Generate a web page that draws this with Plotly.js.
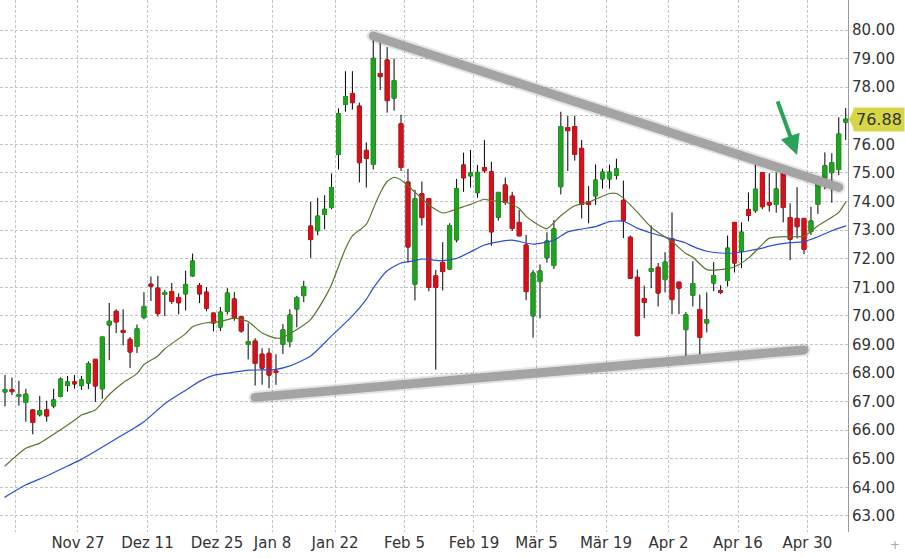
<!DOCTYPE html>
<html><head><meta charset="utf-8">
<script src="https://cdn.plot.ly/plotly-3.0.1.min.js"></script>
<style>
html,body{margin:0;padding:0;background:#fff}
#chart{width:905px;height:558px}
.trend path.js-line{stroke-linecap:round}
</style>
</head><body><div id="chart"></div>
<script>
const DATES = ['2017-11-09','2017-11-10','2017-11-13','2017-11-14','2017-11-15','2017-11-16','2017-11-17','2017-11-20','2017-11-21','2017-11-22','2017-11-24','2017-11-27','2017-11-28','2017-11-29','2017-11-30',
'2017-12-01','2017-12-04','2017-12-05','2017-12-06','2017-12-07','2017-12-08','2017-12-11','2017-12-12','2017-12-13','2017-12-14','2017-12-15','2017-12-18','2017-12-19','2017-12-20','2017-12-21','2017-12-22','2017-12-26','2017-12-27','2017-12-28','2017-12-29',
'2018-01-02','2018-01-03','2018-01-04','2018-01-05','2018-01-08','2018-01-09','2018-01-10','2018-01-11','2018-01-12','2018-01-16','2018-01-17','2018-01-18','2018-01-19','2018-01-22','2018-01-23','2018-01-24','2018-01-25','2018-01-26','2018-01-29','2018-01-30','2018-01-31',
'2018-02-01','2018-02-02','2018-02-05','2018-02-06','2018-02-07','2018-02-08','2018-02-09','2018-02-12','2018-02-13','2018-02-14','2018-02-15','2018-02-16','2018-02-20','2018-02-21','2018-02-22','2018-02-23','2018-02-26','2018-02-27','2018-02-28',
'2018-03-01','2018-03-02','2018-03-05','2018-03-06','2018-03-07','2018-03-08','2018-03-09','2018-03-12','2018-03-13','2018-03-14','2018-03-15','2018-03-16','2018-03-19','2018-03-20','2018-03-21','2018-03-22','2018-03-23','2018-03-26','2018-03-27','2018-03-28','2018-03-29',
'2018-04-02','2018-04-03','2018-04-04','2018-04-05','2018-04-06','2018-04-09','2018-04-10','2018-04-11','2018-04-12','2018-04-13','2018-04-16','2018-04-17','2018-04-18','2018-04-19','2018-04-20','2018-04-23','2018-04-24','2018-04-25','2018-04-26','2018-04-27','2018-04-30',
'2018-05-01','2018-05-02','2018-05-03','2018-05-04','2018-05-07'];

const OPEN = [67.34,67.42,67.18,66.97,66.71,66.54,66.71,66.85,67.18,67.57,67.69,67.56,67.65,68.48,67.45,
69.68,70.16,69.49,69.18,68.93,69.94,71.11,70.97,70.75,70.85,70.64,70.77,71.40,71.06,70.83,70.10,69.61,70.16,70.59,69.97,
69.00,69.12,68.66,68.69,68.07,69.01,69.10,70.24,70.71,73.14,72.98,73.55,73.79,75.65,77.40,77.78,77.34,75.79,75.30,78.48,78.95,
77.62,76.72,74.68,71.11,74.27,74.10,71.40,71.87,71.64,72.66,75.28,74.90,74.31,75.19,75.04,73.45,74.58,74.19,73.27,
72.48,70.00,71.20,72.03,71.76,74.52,76.59,76.62,75.86,73.99,74.20,74.79,74.79,74.92,74.04,72.75,71.35,70.60,71.56,71.70,71.27,
72.70,71.18,69.52,70.72,70.22,69.75,71.15,70.88,71.24,73.27,72.26,73.72,73.68,75.01,73.96,73.90,74.99,73.44,73.41,73.41,72.95,
73.90,74.82,75.01,75.12,76.78];

const HIGH = [67.93,67.84,67.73,67.45,66.73,67.20,67.03,67.45,67.85,67.90,67.93,67.90,68.41,68.48,69.26,
70.45,70.23,70.23,69.26,69.70,70.83,71.38,71.40,70.91,71.15,70.79,71.58,72.18,71.15,71.00,70.10,70.31,70.97,70.83,69.97,
69.74,69.22,68.87,68.87,68.66,69.71,70.23,70.70,71.23,73.99,74.13,74.22,74.98,77.26,78.56,78.56,77.46,76.07,79.71,79.59,79.40,
79.00,77.03,75.14,74.41,74.70,74.10,71.61,72.58,73.24,74.79,75.71,75.80,75.28,76.15,75.39,74.32,74.84,74.34,73.70,
72.83,71.60,71.80,72.92,73.35,77.14,77.00,77.00,76.15,74.54,75.30,75.15,75.29,75.50,74.73,72.81,71.62,71.06,73.16,71.85,72.23,
73.62,71.18,70.13,71.91,70.74,70.82,71.88,71.07,72.81,73.27,73.27,74.32,75.35,75.01,74.99,75.01,74.99,73.94,74.50,73.41,73.82,
74.84,75.72,75.69,76.95,77.27];

const LOW = [66.83,67.23,66.86,66.30,65.86,66.48,66.30,66.77,67.15,67.35,67.45,67.41,67.44,66.99,67.10,
68.45,69.40,68.97,68.18,68.70,69.88,70.52,69.98,70.00,70.42,70.05,70.19,71.37,70.45,70.16,69.46,69.47,70.05,69.83,69.41,
68.48,67.56,67.59,67.47,67.59,68.67,68.90,69.60,70.48,72.03,72.82,73.03,73.73,75.12,77.14,77.22,74.67,74.49,75.12,77.90,77.11,
77.18,75.07,71.87,70.54,73.16,70.86,68.12,70.89,71.61,72.57,74.34,74.49,74.13,75.00,72.45,73.33,73.88,72.97,72.80,
70.55,69.24,69.91,71.86,71.64,74.25,75.07,75.43,73.41,73.24,73.88,74.45,74.45,74.77,72.72,71.30,69.28,69.92,70.97,70.33,70.82,
70.06,70.06,68.58,70.33,68.64,69.42,70.86,70.76,71.03,71.52,71.67,73.31,73.60,73.73,73.65,73.61,73.27,71.95,72.71,72.16,72.83,
73.57,74.43,73.96,74.92,76.15];

const CLOSE = [67.42,67.35,67.25,67.26,66.27,66.68,66.50,67.06,67.79,67.69,67.62,67.76,68.33,67.55,69.26,
69.81,69.79,69.42,68.74,69.55,70.33,71.04,70.08,70.82,70.51,70.46,71.10,71.92,70.77,70.27,69.75,70.13,70.80,69.92,69.47,
69.10,68.34,68.17,67.93,68.02,69.51,70.03,70.64,71.02,72.67,73.49,73.73,74.49,77.08,77.67,77.46,75.36,75.51,79.01,78.37,77.53,
78.23,75.19,72.41,74.10,73.44,71.00,71.00,71.55,73.16,74.45,74.83,75.00,75.02,75.08,72.94,74.32,73.97,73.06,72.80,
70.85,71.50,71.57,72.62,73.04,76.62,76.48,75.65,73.90,73.90,74.75,75.03,75.03,75.14,73.33,71.32,69.31,70.47,71.65,70.80,71.88,
70.57,70.97,70.04,71.13,69.25,69.87,71.41,70.82,72.37,71.85,72.93,73.52,74.43,73.82,73.88,74.44,73.79,72.68,73.12,72.33,73.32,
74.62,75.25,75.36,76.36,76.88];

// moving average lines (at sample dates)
const MA_FAST_DATES = ['2017-11-09','2017-11-14','2017-11-16','2017-11-21','2017-11-24','2017-11-27','2017-11-29','2017-12-01','2017-12-05','2017-12-07','2017-12-08','2017-12-12','2017-12-13','2017-12-18','2017-12-19','2017-12-21','2017-12-26','2017-12-28',
'2018-01-02','2018-01-04','2018-01-08','2018-01-09','2018-01-11','2018-01-16','2018-01-18','2018-01-19','2018-01-23','2018-01-24','2018-01-26','2018-01-29','2018-01-30','2018-01-31',
'2018-02-01','2018-02-02','2018-02-05','2018-02-07','2018-02-08','2018-02-12','2018-02-13','2018-02-15','2018-02-16','2018-02-21','2018-02-22','2018-02-26','2018-02-28',
'2018-03-01','2018-03-05','2018-03-06','2018-03-08','2018-03-12','2018-03-14','2018-03-19','2018-03-20','2018-03-21','2018-03-23','2018-03-27','2018-03-28',
'2018-04-02','2018-04-04','2018-04-05','2018-04-09','2018-04-11','2018-04-13','2018-04-17','2018-04-19','2018-04-20','2018-04-24','2018-04-27',
'2018-05-01','2018-05-03','2018-05-04','2018-05-07'];
const MA_FAST = [64.75,65.37,65.55,66.02,66.35,66.53,66.71,67.25,67.66,67.98,68.30,68.60,68.85,69.38,69.62,69.76,69.80,69.92,
69.80,69.40,69.22,69.25,69.52,69.88,70.62,71.10,72.35,72.80,73.20,73.75,74.30,74.70,
74.85,74.75,74.55,74.10,73.88,73.60,73.65,73.82,73.90,74.08,74.03,73.99,73.76,
73.48,73.15,73.05,73.50,73.85,73.98,74.28,74.28,74.12,73.63,73.10,72.92,
72.60,72.18,72.05,71.62,71.62,71.72,72.02,72.50,72.72,72.77,72.79,
73.15,73.45,73.62,73.98];

const MA_SLOW_DATES = ['2017-11-09','2017-11-14','2017-11-17','2017-11-22','2017-11-27','2017-12-04','2017-12-08','2017-12-13','2017-12-18','2017-12-20','2017-12-22','2017-12-28',
'2018-01-02','2018-01-04','2018-01-08','2018-01-10','2018-01-16','2018-01-19','2018-01-24','2018-01-26','2018-01-29','2018-01-31',
'2018-02-02','2018-02-06','2018-02-07','2018-02-12','2018-02-14','2018-02-16','2018-02-21','2018-02-23','2018-02-27',
'2018-03-02','2018-03-07','2018-03-09','2018-03-13','2018-03-15','2018-03-19','2018-03-21','2018-03-23','2018-03-27','2018-03-29',
'2018-04-04','2018-04-05','2018-04-09','2018-04-11','2018-04-13','2018-04-19','2018-04-20','2018-04-25','2018-04-27',
'2018-05-01','2018-05-03','2018-05-07'];
const MA_SLOW = [63.66,64.09,64.40,64.75,64.98,65.70,66.30,66.93,67.40,67.71,67.92,68.03,
68.10,68.11,68.13,68.25,68.60,69.30,70.00,70.58,70.97,71.58,
71.85,71.93,71.99,71.93,72.01,72.24,72.48,72.59,72.65,
72.51,72.65,72.94,73.04,73.12,73.30,73.31,73.07,72.90,72.76,
72.55,72.43,72.26,72.20,72.20,72.37,72.44,72.56,72.60,
72.77,72.98,73.15];

// hand-drawn trend lines
const TREND_UPPER_DATES = ['2018-01-29','2018-05-04'];
const TREND_UPPER = [79.79, 74.50];
const TREND_LOWER_DATES = ['2018-01-03','2018-04-27'];
const TREND_LOWER = [67.15, 68.81];

const TICK_DATES = ['2017-11-13','2017-11-27','2017-12-11','2017-12-26','2018-01-08','2018-01-22','2018-02-05','2018-02-20','2018-03-05','2018-03-19','2018-04-02','2018-04-16','2018-04-30'];
const TICK_LABELS = ['','Nov 27','Dez 11','Dez 25','Jan 8','Jan 22','Feb 5','Feb 19','Mär 5','Mär 19','Apr 2','Apr 16','Apr 30'];
const PRICE_TICKS = [63,64,65,66,67,68,69,70,71,72,73,74,75,76,77,78,79,80];

const LAST_PRICE = 76.88;
const ARROW_DATE = '2018-04-26';
const ARROW_PRICE = 75.63;

const FONT = 'DejaVu Sans, Verdana, sans-serif';
const UP = '#1ea51e', DOWN = '#d7111b';

const bodyHigh = OPEN.map((o,i)=>Math.max(o, CLOSE[i]));
const bodyLow = OPEN.map((o,i)=>Math.min(o, CLOSE[i]));

const traces = [
  {type:'scatter', mode:'lines', x:TREND_UPPER_DATES, y:TREND_UPPER, line:{color:'rgba(0,0,0,0.10)', width:13}, hoverinfo:'skip', showlegend:false},
  {type:'scatter', mode:'lines', x:TREND_LOWER_DATES, y:TREND_LOWER, line:{color:'rgba(0,0,0,0.10)', width:13}, hoverinfo:'skip', showlegend:false},
  {type:'scatter', mode:'lines', x:MA_SLOW_DATES, y:MA_SLOW, line:{color:'#2a4fd6', width:1.2, shape:'spline', smoothing:0.6}, hoverinfo:'skip', showlegend:false},
  {type:'scatter', mode:'lines', x:MA_FAST_DATES, y:MA_FAST, line:{color:'#55782a', width:1.2, shape:'spline', smoothing:0.6}, hoverinfo:'skip', showlegend:false},
  {type:'candlestick', x:DATES, open:OPEN, high:HIGH, low:LOW, close:CLOSE,
   increasing:{line:{color:'#000', width:1}, fillcolor:'#000'},
   decreasing:{line:{color:'#000', width:1}, fillcolor:'#000'},
   hoverinfo:'skip', showlegend:false},
  {type:'candlestick', x:DATES, open:OPEN, high:bodyHigh, low:bodyLow, close:CLOSE,
   increasing:{line:{color:UP, width:1}, fillcolor:UP},
   decreasing:{line:{color:DOWN, width:1}, fillcolor:DOWN},
   hoverinfo:'skip', showlegend:false},
  {type:'scatter', mode:'lines', x:TREND_UPPER_DATES, y:TREND_UPPER, line:{color:'#a4a4a4', width:9}, hoverinfo:'skip', showlegend:false},
  {type:'scatter', mode:'lines', x:TREND_LOWER_DATES, y:TREND_LOWER, line:{color:'#a4a4a4', width:9}, hoverinfo:'skip', showlegend:false}
];

const layout = {
  width:905, height:558,
  margin:{l:0, r:57, t:0, b:26},
  paper_bgcolor:'#fff', plot_bgcolor:'#fff',
  showlegend:false,
  boxgap:0.2,
  font:{family:FONT, size:15, color:'#333'},
  xaxis:{
    type:'category', categoryorder:'array', categoryarray:DATES,
    range:[-0.72, 121.33],
    rangeslider:{visible:false},
    tickmode:'array',
    tickvals:TICK_DATES.map(d=>DATES.indexOf(d)-0.5),
    ticktext:TICK_LABELS,
    showgrid:true, gridcolor:'#c4c4c4', griddash:'3px,2px', gridwidth:1,
    showline:false, zeroline:false, ticks:'',
    tickfont:{family:FONT, size:15, color:'#333'}
  },
  yaxis:{
    side:'right', range:[62.44, 81.05],
    tickmode:'array', tickvals:PRICE_TICKS,
    // the 77.00 label sits under the last-price tag
    ticktext:PRICE_TICKS.map(v=>Math.abs(v-LAST_PRICE)<0.5 ? '' : v.toFixed(2)),
    showgrid:true, gridcolor:'#c4c4c4', griddash:'3px,2px', gridwidth:1,
    showline:true, linecolor:'#9a9a9a', linewidth:1, zeroline:false, ticks:'',
    tickfont:{family:FONT, size:15, color:'#333'}
  },
  shapes:[
    {type:'path', xref:'paper', xsizemode:'pixel', xanchor:1, yref:'y', ysizemode:'pixel', yanchor:LAST_PRICE,
     path:'M 1 0 L 6 -10 L 6 10 Z', fillcolor:'#d6d646', line:{width:0}}
  ],
  annotations:[
    {xref:'paper', x:1, xanchor:'left', xshift:5, yref:'y', y:LAST_PRICE, yanchor:'middle',
     text:LAST_PRICE.toFixed(2), showarrow:false, bgcolor:'#d6d646', borderpad:2,
     font:{family:FONT, size:16, color:'#333'}},
    {x:ARROW_DATE, y:ARROW_PRICE, xref:'x', yref:'y', ax:-20, ay:-55, showarrow:true,
     arrowcolor:'#2aa35a', arrowwidth:4, arrowhead:2, arrowsize:1, text:''},
    {xref:'paper', yref:'paper', x:1, y:0, xanchor:'left', yanchor:'top', xshift:40, yshift:-4,
     text:'+', showarrow:false, font:{family:FONT, size:12, color:'#aaaaaa'}}
  ]
};

Plotly.newPlot('chart', traces, layout, {displayModeBar:false, staticPlot:true}).then(gd=>{
  const ts = gd.querySelectorAll('.scatterlayer .trace');
  ts.forEach(t=>{ t.classList.add('trend'); });
});
</script>
</body></html>
